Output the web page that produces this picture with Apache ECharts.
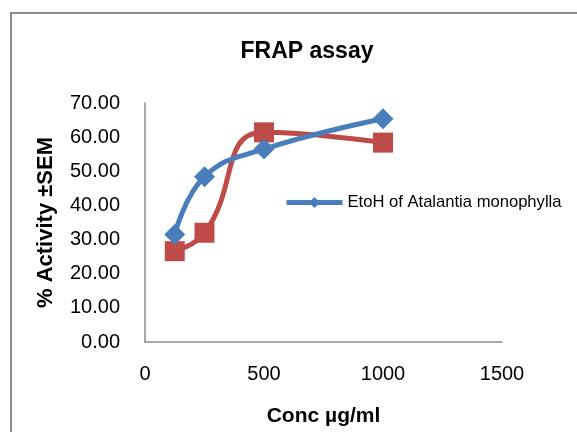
<!DOCTYPE html>
<html>
<head>
<meta charset="utf-8">
<script src="https://cdn.jsdelivr.net/npm/echarts@6/dist/echarts.min.js"></script>
<style>
  html, body { margin: 0; padding: 0; background: #fff; }
  #chart { width: 577px; height: 432px; }
</style>
</head>
<body>
<div id="chart"></div>
<script>
// concentrations (µg/ml)
const conc = [125, 250, 500, 1000];
// % activity
const etohActivity = [31.5, 48.4, 56.5, 65.4];
const secondActivity = [26.6, 32.0, 61.4, 58.4];

const seriesNames = ["EtoH of Atalantia monophylla", "Series2"];

const chart = echarts.init(document.getElementById("chart"));
const font = "Liberation Sans";

const option = {
  animation: false,
  backgroundColor: "#fff",
  title: {
    text: "FRAP assay",
    left: 302,
    textAlign: "center",
    top: 35,
    textStyle: { fontFamily: font, fontSize: 23, fontWeight: "bold", color: "#000" },
  },
  legend: {
    data: [seriesNames[0]],
    left: 279,
    top: 189,
    itemWidth: 56,
    itemHeight: 14,
    lineStyle: { width: 5 },
    textStyle: { fontFamily: font, fontSize: 16.6, color: "#000" },
  },
  graphic: [
    {
      type: "rect",
      shape: { x: 11, y: 13, width: 620, height: 460 },
      style: { fill: "none", stroke: "#8c8c8c", lineWidth: 2 },
      silent: true,
    },
  ],
  grid: { left: 145, right: 75, top: 103, bottom: 90 },
  xAxis: {
    type: "value",
    min: 0,
    max: 1500,
    interval: 500,
    name: "Conc µg/ml",
    nameLocation: "middle",
    nameGap: 64,
    nameTextStyle: { fontFamily: font, fontSize: 21, fontWeight: "bold", color: "#000" },
    axisLine: { lineStyle: { color: "#8c8c8c", width: 1.5 } },
    axisTick: { show: false },
    splitLine: { show: false },
    axisLabel: {
      fontFamily: font,
      fontSize: 20,
      color: "#000",
      margin: 22,
      formatter: (v) => String(v),
    },
  },
  yAxis: {
    type: "value",
    min: 0,
    max: 70,
    interval: 10,
    name: "% Activity ±SEM",
    nameLocation: "middle",
    nameGap: 88,
    nameTextStyle: { fontFamily: font, fontSize: 22, fontWeight: "bold", color: "#000" },
    axisLine: { show: true, lineStyle: { color: "#8c8c8c", width: 1.5 } },
    axisTick: { show: false },
    splitLine: { show: false },
    axisLabel: {
      fontFamily: font,
      fontSize: 20,
      color: "#000",
      margin: 25,
      formatter: (v) => v.toFixed(2),
    },
  },
  series: [
    {
      name: seriesNames[0],
      type: "line",
      smooth: 0.45,
      data: conc.map((c, i) => [c, etohActivity[i]]),
      symbol: "diamond",
      symbolSize: 21,
      lineStyle: { color: "#4A7EBB", width: 5 },
      itemStyle: { color: "#4A7EBB" },
      z: 3,
    },
    {
      name: seriesNames[1],
      type: "line",
      smooth: 0.5,
      data: conc.map((c, i) => [c, secondActivity[i]]),
      symbol: "rect",
      symbolSize: 20,
      lineStyle: { color: "#BE4B48", width: 5 },
      itemStyle: { color: "#BE4B48" },
      z: 2,
    },
  ],
};

chart.setOption(option);
</script>
</body>
</html>
